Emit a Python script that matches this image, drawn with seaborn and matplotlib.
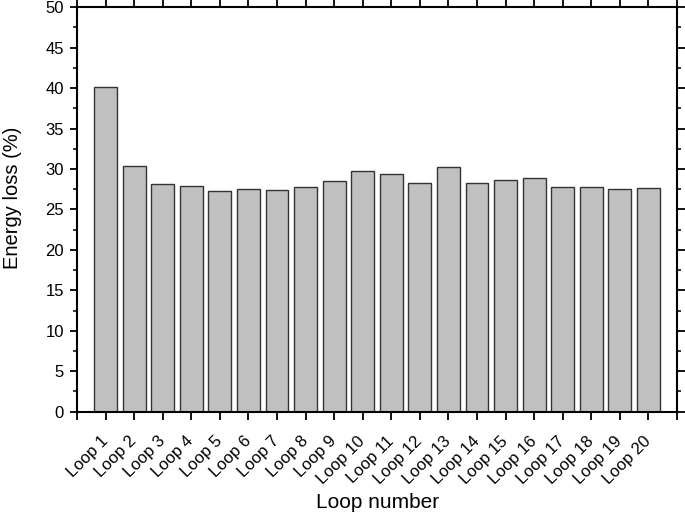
import numpy as np
import pandas as pd
import matplotlib
matplotlib.use("Agg")
import matplotlib.pyplot as plt
import matplotlib.transforms as mtransforms
import seaborn as sns
from matplotlib.ticker import MultipleLocator, FixedLocator

sns.set_style("white")
plt.rcParams['font.family'] = ['Liberation Sans', 'DejaVu Sans']
plt.rcParams['text.color'] = 'black'
plt.rcParams['axes.labelcolor'] = 'black'

# data
loops = [f"Loop {i}" for i in range(1, 21)]
energy_loss = [40.1, 30.4, 28.1, 27.9, 27.3, 27.5, 27.4, 27.8, 28.5, 29.7,
               29.4, 28.3, 30.2, 28.3, 28.7, 28.9, 27.8, 27.8, 27.5, 27.6]

df = pd.DataFrame({"loop": loops, "loss": energy_loss})

fig = plt.figure(figsize=(6.85, 5.14), dpi=100)
ax = fig.add_axes([0.1124, 0.199, 0.876, 0.787])

sns.barplot(data=df, x="loop", y="loss", color="#c0c0c0", saturation=1,
            edgecolor="#333333", linewidth=1.0, width=0.8, ax=ax)

ax.set_xlim(-1, 20)
ax.set_ylim(0, 50)

# ticks at every bar plus both ends, labels only under bars
positions = list(range(-1, 21))
ax.xaxis.set_major_locator(FixedLocator(positions))
ax.set_xticklabels([""] + loops + [""], rotation=45, ha="right", va="center",
                   rotation_mode="anchor", fontsize=12)
shift = mtransforms.ScaledTranslation(5 / 100, 0, fig.dpi_scale_trans)
for lab in ax.get_xticklabels():
    lab.set_transform(lab.get_transform() + shift)

ax.yaxis.set_major_locator(MultipleLocator(5))
ax.yaxis.set_minor_locator(MultipleLocator(2.5))
ax.tick_params(axis="y", labelsize=12, pad=4)

ax.tick_params(which="major", direction="out", length=5.4, width=1.3,
               bottom=True, top=True, left=True, right=True,
               labeltop=False, labelright=False, colors="black")
ax.tick_params(which="minor", axis="y", direction="out", length=3.2, width=1.1,
               left=True, right=True, colors="black")
ax.tick_params(axis="x", pad=14)

for sp in ax.spines.values():
    sp.set_visible(True)
    sp.set_color("black")
    sp.set_linewidth(1.5)

ax.set_xlabel("Loop number", fontsize=15)
ax.set_ylabel("Energy loss (%)", fontsize=14.5)
ax.xaxis.set_label_coords(0.501, -0.201)
ax.yaxis.set_label_coords(-0.092, 0.53)
ax.xaxis.label.set_va("top")

fig.savefig("out.png", dpi=100)
